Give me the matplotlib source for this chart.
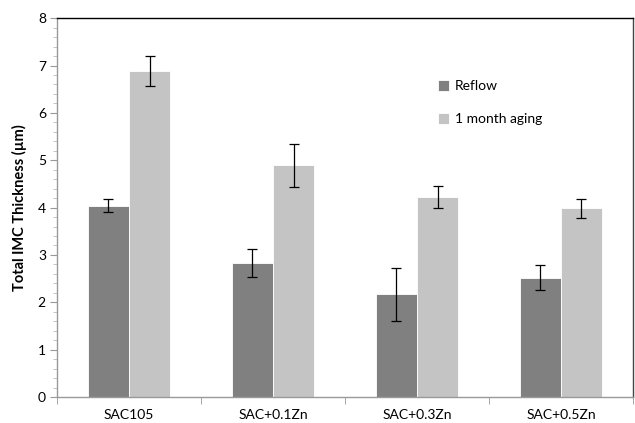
import numpy as np
import matplotlib.pyplot as plt
from matplotlib.ticker import MultipleLocator

plt.rcParams['font.family'] = ['Lato', 'DejaVu Sans']

categories = ['SAC105', 'SAC+0.1Zn', 'SAC+0.3Zn', 'SAC+0.5Zn']
reflow = [4.04, 2.83, 2.17, 2.52]
reflow_err = [0.14, 0.30, 0.56, 0.27]
aging = [6.88, 4.89, 4.23, 3.99]
aging_err = [0.32, 0.46, 0.23, 0.20]

x = np.arange(len(categories))
w = 0.285

fig = plt.figure(figsize=(6.35, 4.23), dpi=100)
ax = fig.add_axes([0.0898, 0.0615, 0.907, 0.8955])

err_kw = dict(ecolor='black', elinewidth=0.9, capsize=3.5, capthick=0.9)
ax.bar(x - w / 2, reflow, w, yerr=reflow_err, color='#808080', edgecolor='white',
       linewidth=0.6, label='Reflow', error_kw=err_kw)
ax.bar(x + w / 2, aging, w, yerr=aging_err, color='#c4c4c4', edgecolor='white',
       linewidth=0.6, label='1 month aging', error_kw=err_kw)

ax.set_xlim(-0.5, 3.5)
ax.set_ylim(0, 8)
ax.set_xticks(x)
ax.set_xticklabels(categories, fontsize=10)
ax.tick_params(axis='x', length=0, pad=9)
# category separator ticks on the x axis
ax.set_xticks(np.arange(-0.5, 4.0, 1.0), minor=True)
ax.tick_params(axis='x', which='minor', length=5, color='#999999', direction='out')

ax.yaxis.set_major_locator(MultipleLocator(1))
ax.yaxis.set_minor_locator(MultipleLocator(0.2))
ax.tick_params(axis='y', which='major', length=5, color='#999999', labelsize=10, pad=3)
ax.tick_params(axis='y', which='minor', length=3, color='#bbbbbb')
ax.set_ylabel('Total IMC Thickness (µm)', fontsize=10.5, fontweight='bold', labelpad=8)

ax.spines['left'].set_color('#999999')
ax.spines['bottom'].set_color('#999999')
ax.spines['top'].set_color('black')
ax.spines['right'].set_color('#444444')
for s in ax.spines.values():
    s.set_linewidth(1.0)

ax.legend(loc='upper left', bbox_to_anchor=(0.64, 0.87), frameon=False, fontsize=10,
          handlelength=0.8, handleheight=0.8, handletextpad=0.4, labelspacing=1.5)

fig.savefig('out.png', dpi=100)
